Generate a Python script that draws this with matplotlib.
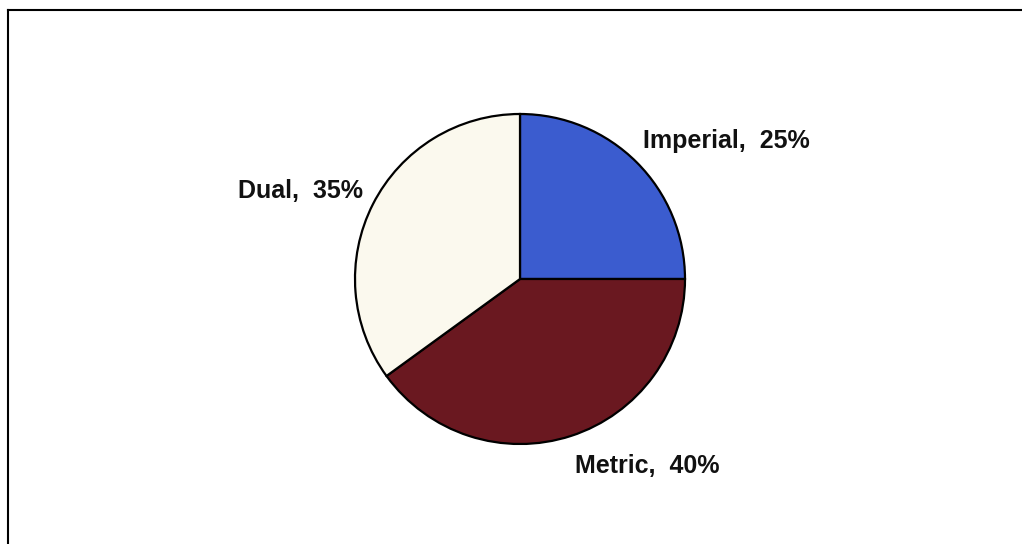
import matplotlib
matplotlib.use("Agg")
import matplotlib.pyplot as plt
from matplotlib.lines import Line2D

# share of drawings by unit system
categories = ["Imperial", "Metric", "Dual"]
shares = [25, 40, 35]
colors = ["#3b5ccf", "#6a1820", "#fbf9ee"]

# label anchors: left edge and text baseline (pixels, y from the top)
label_pos = [(643, 148), (575, 473), (238, 198)]

W, H = 1022, 544
fig = plt.figure(figsize=(W / 100, H / 100), dpi=100)
ax = fig.add_axes([0, 0, 1, 1])

ax.pie(shares, colors=colors, startangle=90, counterclock=False,
       center=(520, H - 279), radius=165,
       wedgeprops=dict(edgecolor="black", linewidth=1.6))
ax.set_xlim(0, W)
ax.set_ylim(0, H)
ax.set_axis_off()

for name, pct, (x, y) in zip(categories, shares, label_pos):
    ax.text(x, H - y, f"{name},  {pct}%", ha="left", va="baseline",
            fontsize=18, fontweight="bold", family="Liberation Sans",
            color="#111111")

# frame: only the top and left edges are visible
fig.add_artist(Line2D([8 / W, 1], [1 - 10 / H, 1 - 10 / H],
                      transform=fig.transFigure, color="black", lw=1.5))
fig.add_artist(Line2D([8 / W, 8 / W], [0, 1 - 10 / H],
                      transform=fig.transFigure, color="black", lw=1.5))

fig.savefig("out.png", dpi=100, facecolor="white")
